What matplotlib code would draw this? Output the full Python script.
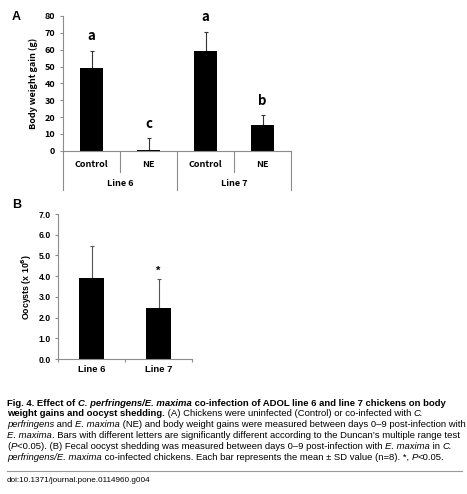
import matplotlib.pyplot as plt
import matplotlib
from matplotlib.transforms import IdentityTransform
from matplotlib.lines import Line2D

# panel A: body weight gain
a_labels = ['Control', 'NE', 'Control', 'NE']
a_groups = ['Line 6', 'Line 7']
a_values = [49, 0.3, 59.5, 15.5]
a_sd = [10.5, 7, 11, 5.5]
a_letters = ['a', 'c', 'a', 'b']

# panel B: oocyst shedding
b_labels = ['Line 6', 'Line 7']
b_values = [3.92, 2.45]
b_sd = [1.55, 1.42]
b_marks = ['', '*']

W, H = 467, 494
fig = plt.figure(figsize=(W / 100, H / 100), dpi=100)
kfont = ['Noto Sans CJK KR', 'DejaVu Sans']
afont = ['Liberation Sans', 'DejaVu Sans']
gray = '#8c8c8c'

def box(l, t, r, b):
    return [l / W, 1 - b / H, (r - l) / W, (b - t) / H]

# ---------- A ----------
ax = fig.add_axes(box(63, 16, 291, 150.7))
xs = range(len(a_values))
ax.bar(xs, a_values, width=0.39, color='black', zorder=2)
ax.errorbar(xs, a_values, yerr=[[0] * 4, a_sd], fmt='none', ecolor='#333333',
            elinewidth=0.8, capsize=1.5, capthick=0.8, zorder=1)
for x, v, s, l in zip(xs, a_values, a_sd, a_letters):
    ax.text(x, v + s + 4.5, l, ha='center', va='bottom', fontsize=9.5,
            fontweight='bold', family=kfont)
ax.set_xlim(-0.5, 3.5)
ax.set_ylim(0, 80)
ax.set_yticks(range(0, 81, 10))
ax.set_xticks([])
for s in ['top', 'right']:
    ax.spines[s].set_visible(False)
for s in ['left', 'bottom']:
    ax.spines[s].set_color(gray)
    ax.spines[s].set_linewidth(0.8)
ax.tick_params(axis='y', length=2.5, width=0.8, color=gray, pad=3, labelsize=6.5)
for t in ax.get_yticklabels():
    t.set_fontweight('bold')
    t.set_family(kfont)
ax.set_ylabel('Body weight gain (g)', fontsize=6.5, fontweight='bold',
              family=kfont, labelpad=5)
tr = ax.get_xaxis_transform()
for x in [-0.5, 1.5, 3.5]:
    ax.add_line(Line2D([x, x], [0, -0.29], transform=tr, color=gray, lw=0.8, clip_on=False))
for x in [0.5, 2.5]:
    ax.add_line(Line2D([x, x], [0, -0.158], transform=tr, color=gray, lw=0.8, clip_on=False))
for x, l in zip(xs, a_labels):
    ax.text(x, -0.099, l, transform=tr, ha='center', va='center', fontsize=6.5,
            fontweight='bold', family=kfont)
for i, g in enumerate(a_groups):
    ax.text(2 * i + 0.5, -0.24, g, transform=tr, ha='center', va='center',
            fontsize=6.5, fontweight='bold', family=kfont)
fig.text(12 / W, 1 - 17 / H, 'A', fontsize=9, fontweight='bold', family=afont,
         va='center')

# ---------- B ----------
bx = fig.add_axes(box(58, 214, 192, 359))
xb = range(len(b_values))
bx.bar(xb, b_values, width=0.385, color='black', zorder=2)
bx.errorbar(xb, b_values, yerr=[[0] * 2, b_sd], fmt='none', ecolor='#555555',
            elinewidth=0.8, capsize=1.5, capthick=0.8, zorder=1)
for x, v, s, m in zip(xb, b_values, b_sd, b_marks):
    bx.text(x, v + s + 0.15, m, ha='center', va='bottom', fontsize=8,
            fontweight='bold', family=afont)
bx.set_xlim(-0.5, 1.5)
bx.set_ylim(0, 7)
bx.set_yticks(range(0, 8))
bx.set_yticklabels([f'{v:.1f}' for v in range(0, 8)])
bx.set_xticks([-0.5, 0.5, 1.5])
bx.set_xticklabels([])
bx.set_xticks(list(xb), minor=True)
bx.set_xticklabels(b_labels, minor=True)
bx.tick_params(axis='x', which='minor', length=0, pad=4, labelsize=6.8)
bx.tick_params(axis='x', which='major', length=2.5, width=0.8, color=gray)
bx.tick_params(axis='y', length=2.5, width=0.8, color=gray, pad=2.5, labelsize=6.2)
for t in bx.get_yticklabels() + bx.get_xticklabels(minor=True):
    t.set_fontweight('bold')
    t.set_family(afont)
for s in ['top', 'right']:
    bx.spines[s].set_visible(False)
for s in ['left', 'bottom']:
    bx.spines[s].set_color(gray)
    bx.spines[s].set_linewidth(0.8)
bx.set_ylabel('Oocysts (x 10$^{\\mathbf{6}}$)', fontsize=6.3, fontweight='bold',
              family=afont, labelpad=3.5)
fig.text(12 / W, 1 - 205 / H, 'B', fontsize=9, fontweight='bold', family=afont,
         va='center')

# ---------- caption ----------
N, B, I, BI = ('normal', 'normal'), ('bold', 'normal'), ('normal', 'italic'), ('bold', 'italic')
caption = [
    [('Fig. 4. Effect of ', B), ('C. perfringens/E. maxima', BI),
     (' co-infection of ADOL line 6 and line 7 chickens on body', B)],
    [('weight gains and oocyst shedding.', B),
     (' (A) Chickens were uninfected (Control) or co-infected with ', N), ('C.', I)],
    [('perfringens', I), (' and ', N), ('E. maxima', I),
     (' (NE) and body weight gains were measured between days 0\u20139 post-infection with', N)],
    [('E. maxima', I),
     ('. Bars with different letters are significantly different according to the Duncan\u2019s multiple range test', N)],
    [('(', N), ('P', I),
     ('<0.05). (B) Fecal oocyst shedding was measured between days 0\u20139 post-infection with ', N),
     ('E. maxima', I), (' in ', N), ('C.', I)],
    [('perfringens/E. maxima', I),
     (' co-infected chickens. Each bar represents the mean \u00b1 SD value (n=8). *, ', N),
     ('P', I), ('<0.05.', N)],
]
cap_size = 6.8
renderer = fig.canvas.get_renderer()

def advance(s, w, st):
    kw = dict(fontsize=cap_size, fontweight=w, fontstyle=st, family=afont)
    t1 = fig.text(0, 0, '|' + s + '|', **kw)
    t2 = fig.text(0, 0, '||', **kw)
    d = t1.get_window_extent(renderer).width - t2.get_window_extent(renderer).width
    t1.remove()
    t2.remove()
    return d

for i, runs in enumerate(caption):
    y = H - (402 + i * 10.9)
    x = 7
    for s, (w, st) in runs:
        fig.text(x, y, s, transform=IdentityTransform(), fontsize=cap_size,
                 fontweight=w, fontstyle=st, family=afont, va='center_baseline')
        x += advance(s, w, st)

fig.add_artist(Line2D([7 / W, 462 / W], [1 - 471 / H, 1 - 471 / H], color='#999999', lw=0.8))
fig.text(7 / W, 1 - 480 / H, 'doi:10.1371/journal.pone.0114960.g004', fontsize=5.9,
         family=['Liberation Sans Narrow', 'Liberation Sans'], va='center')

fig.savefig('out.png', dpi=100)
